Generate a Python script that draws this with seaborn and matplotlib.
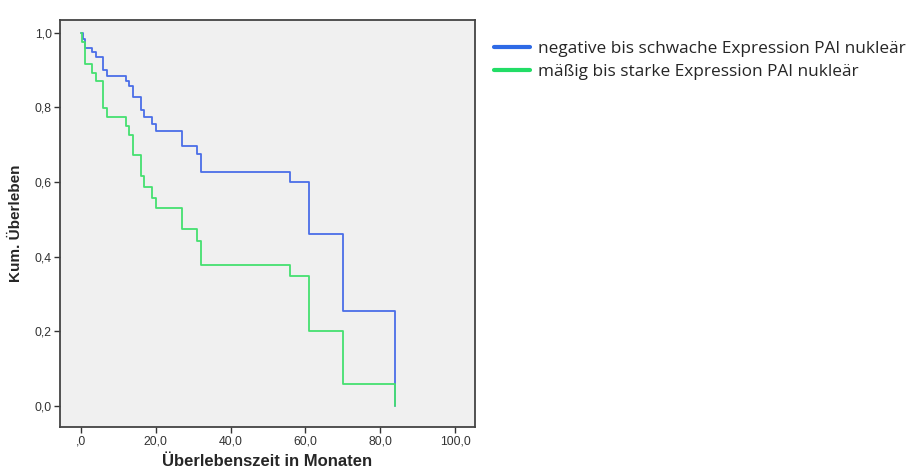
import pandas as pd
import numpy as np
import matplotlib
matplotlib.use('Agg')
import matplotlib.pyplot as plt
import seaborn as sns
from matplotlib.lines import Line2D

# Kaplan-Meier steps
group_labels = ['negative bis schwache Expression PAI nukleär',
                'mäßig bis starke Expression PAI nukleär']
blue_time = [0, 0.5, 1, 3, 4, 6, 7, 12, 13, 14, 16, 17, 19, 20, 27, 31, 32, 56, 61, 70, 84]
blue_surv = [1.0, 0.982, 0.958, 0.947, 0.936, 0.900, 0.884, 0.871, 0.858, 0.827, 0.793,
             0.773, 0.755, 0.737, 0.696, 0.674, 0.626, 0.600, 0.459, 0.255, 0.0]
green_time = [0, 0.3, 1, 3, 4, 6, 7, 12, 13, 14, 16, 17, 19, 20, 27, 31, 32, 56, 61, 70, 84]
green_surv = [1.0, 0.975, 0.915, 0.893, 0.871, 0.797, 0.774, 0.750, 0.727, 0.673, 0.616,
              0.587, 0.558, 0.530, 0.473, 0.441, 0.378, 0.347, 0.200, 0.059, 0.0]

x_ticks = [0, 20, 40, 60, 80, 100]
x_tick_labels = [',0', '20,0', '40,0', '60,0', '80,0', '100,0']
y_ticks = [0.0, 0.2, 0.4, 0.6, 0.8, 1.0]
y_tick_labels = ['0,0', '0,2', '0,4', '0,6', '0,8', '1,0']

df = pd.concat([
    pd.DataFrame({'time': blue_time, 'surv': blue_surv, 'group': group_labels[0]}),
    pd.DataFrame({'time': green_time, 'surv': green_surv, 'group': group_labels[1]}),
])

sns.set_style('white')
plt.rcParams['font.family'] = ['Liberation Sans', 'DejaVu Sans']

fig = plt.figure(figsize=(9.16, 4.73), dpi=100)
ax = fig.add_axes([0.0655, 0.0973, 0.4531, 0.8604])
ax.set_facecolor('#f0f0f0')

line_colors = ['#4a6ee8', '#45e070']
sns.lineplot(data=df, x='time', y='surv', hue='group', palette=line_colors,
             estimator=None, sort=False, drawstyle='steps-post', linewidth=1.3,
             legend=False, ax=ax)

ax.set_xlim(-5.55, 105.3)
ax.set_ylim(-0.057, 1.034)
ax.set_xticks(x_ticks)
ax.set_xticklabels(x_tick_labels)
ax.set_yticks(y_ticks)
ax.set_yticklabels(y_tick_labels)
ax.tick_params(axis='both', direction='out', length=4, width=1, color='#333333',
               labelsize=8.8, labelcolor='#333333', left=True, bottom=True, pad=2)
for s in ax.spines.values():
    s.set_color('#444444')
    s.set_linewidth(1.3)

ax.set_xlabel('Überlebenszeit in Monaten', fontsize=12, fontweight='bold', labelpad=5)
ax.set_ylabel('Kum. Überleben', fontsize=11, fontweight='bold', labelpad=8)

legend_colors = ['#2e6ae6', '#22dd66']
handles = [Line2D([0], [0], color=c, lw=3) for c in legend_colors]
leg = fig.legend(handles, group_labels, loc='upper left', bbox_to_anchor=(0.5225, 0.947),
                 frameon=False, handlelength=2.1, handletextpad=0.46, labelspacing=0.4,
                 prop={'family': 'Open Sans', 'size': 12.4})
for t in leg.get_texts():
    t.set_color('#262626')

fig.savefig('out.png', dpi=100)
